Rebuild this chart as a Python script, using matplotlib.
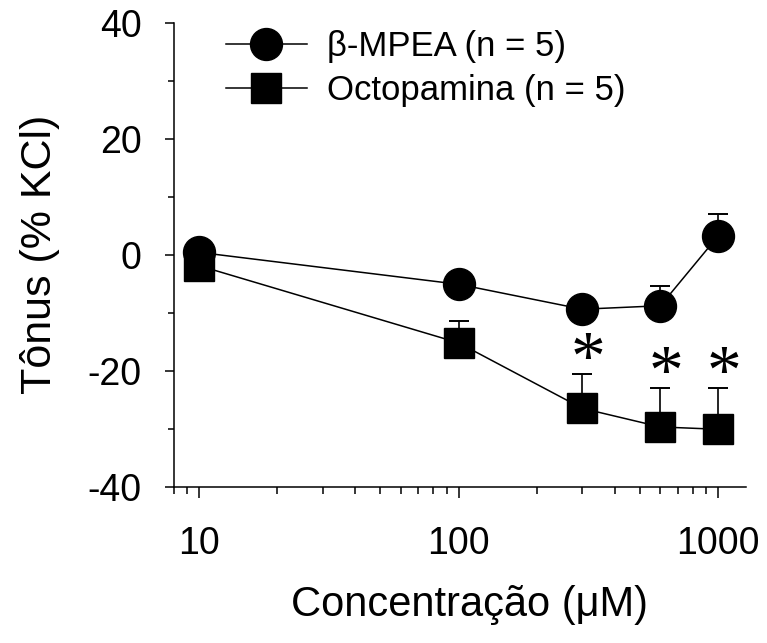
import numpy as np
import matplotlib.pyplot as plt
from matplotlib.ticker import FixedLocator, NullFormatter

# concentrations (uM)
conc = [10, 100, 300, 600, 1000]

# beta-MPEA: mean and SEM (% KCl)
mpea_mean = [0.4, -5.1, -9.4, -8.8, 3.2]
mpea_sem = [1.0, 1.5, 1.5, 3.4, 3.8]

# Octopamina: mean and SEM (% KCl)
octo_mean = [-1.9, -15.2, -26.5, -29.7, -30.1]
octo_sem = [1.0, 3.7, 5.9, 6.7, 7.1]

# points marked as significant
signif = [300, 600, 1000]

plt.rcParams['font.family'] = ['Liberation Sans', 'DejaVu Sans']
plt.rcParams['axes.unicode_minus'] = False

fig = plt.figure(figsize=(7.67, 6.43), dpi=100)
ax = fig.add_axes([0.2269, 0.2431, 0.7457, 0.7216])

# error bars only upwards
ax.errorbar(conc, mpea_mean, yerr=[np.zeros(5), mpea_sem], fmt='none',
            ecolor='black', elinewidth=1.2, capsize=7, capthick=1.4, zorder=2)
ax.errorbar(conc, octo_mean, yerr=[np.zeros(5), octo_sem], fmt='none',
            ecolor='black', elinewidth=1.2, capsize=7, capthick=1.4, zorder=2)

ax.plot(conc, octo_mean, color='black', lw=1.1, marker='s', ms=21,
        label='Octopamina (n = 5)', zorder=3)
ax.plot(conc, mpea_mean, color='black', lw=1.1, marker='o', ms=23,
        label='β-MPEA (n = 5)', zorder=4)

# asterisks above the error bars
for c in signif:
    i = conc.index(c)
    top = octo_mean[i] + octo_sem[i]
    ax.annotate('*', xy=(c, top + 4), xytext=(4, -8), textcoords='offset points',
                ha='center', va='center', fontsize=50, family='Liberation Serif')

ax.set_xscale('log')
ax.set_xlim(8, 1282)
ax.set_ylim(-40, 40)

ax.xaxis.set_major_locator(FixedLocator([10, 100, 1000]))
ax.xaxis.set_minor_locator(FixedLocator([8, 9] + list(range(20, 100, 10)) + list(range(200, 1000, 100))))
ax.xaxis.set_minor_formatter(NullFormatter())
ax.set_xticklabels(['10', '100', '1000'])
ax.set_yticks([-40, -20, 0, 20, 40])
ax.set_yticks([-30, -10, 10, 30], minor=True)

ax.tick_params(axis='x', which='major', length=8, width=1.1, pad=20, labelsize=27)
ax.tick_params(axis='x', which='minor', length=5, width=1.1)
ax.tick_params(axis='y', which='major', length=6.5, width=1.1, pad=17, labelsize=27)
ax.tick_params(axis='y', which='minor', length=4.3, width=1.1)

for s in ['top', 'right']:
    ax.spines[s].set_visible(False)
for s in ['left', 'bottom']:
    ax.spines[s].set_linewidth(1.1)

ax.set_xlabel('Concentração (μM)', fontsize=30)
ax.xaxis.set_label_coords(0.517, -0.212)
ax.set_ylabel('Tônus (% KCl)', fontsize=31)
ax.yaxis.set_label_coords(-0.199, 0.5)

handles, labels = ax.get_legend_handles_labels()
ax.legend(handles[::-1], labels[::-1], loc='upper left', bbox_to_anchor=(0.09, 0.985),
          frameon=False, fontsize=25, handlelength=2.36, handletextpad=0.55,
          labelspacing=0.33, borderpad=0, borderaxespad=0)

fig.savefig('out.png', dpi=100)
